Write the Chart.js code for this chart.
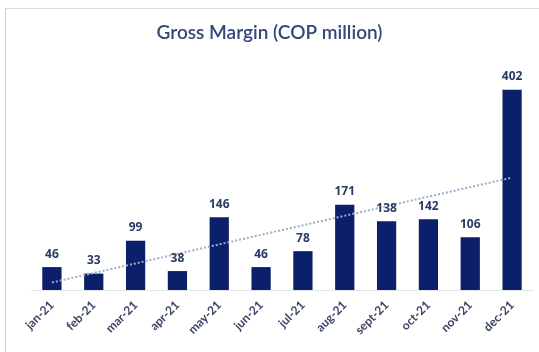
<!DOCTYPE html>
<html>
<head>
<meta charset="utf-8">
<script src="https://cdn.jsdelivr.net/npm/chart.js@4.4.1/dist/chart.umd.min.js"></script>
<style>
  html, body { margin: 0; padding: 0; background: #ffffff; }
  #wrap { position: relative; width: 539px; height: 352px; overflow: hidden; }
  #frame { position: absolute; left: 5px; top: 8px; width: 560px; height: 360px;
           border-left: 1px solid #cfd1d4; border-top: 1px solid #dcdde0; }
  canvas { position: absolute; left: 0; top: 0; }
</style>
</head>
<body>
<div id="wrap">
  <div id="frame"></div>
  <canvas id="c" width="539" height="352"></canvas>
</div>
<script>
const categories = ["jan-21","feb-21","mar-21","apr-21","may-21","jun-21","jul-21","aug-21","sept-21","oct-21","nov-21","dec-21"];
const grossMargin = [46, 33, 99, 38, 146, 46, 78, 171, 138, 142, 106, 402];
const chartTitle = "Gross Margin (COP million)";

// Linear (least-squares) trendline of the series, as in the original spreadsheet chart
function linearTrend(values) {
  const n = values.length;
  let sx = 0, sy = 0, sxy = 0, sxx = 0;
  values.forEach((v, i) => { sx += i; sy += v; sxy += i * v; sxx += i * i; });
  const slope = (n * sxy - sx * sy) / (n * sxx - sx * sx);
  const intercept = (sy - slope * sx) / n;
  return values.map((_, i) => intercept + slope * i);
}
const trend = linearTrend(grossMargin);

const valueLabels = {
  id: 'valueLabels',
  afterDatasetsDraw(chart) {
    const ctx = chart.ctx;
    const meta = chart.getDatasetMeta(1);
    ctx.save();
    ctx.font = 'bold 12px "Open Sans", sans-serif';
    ctx.fillStyle = '#2b3963';
    ctx.textAlign = 'center';
    ctx.textBaseline = 'bottom';
    meta.data.forEach((bar, i) => {
      ctx.fillText(String(grossMargin[i]), bar.x, bar.y - 7);
    });
    ctx.restore();
  }
};

const centeredTitle = {
  id: 'centeredTitle',
  afterDraw(chart) {
    const ctx = chart.ctx;
    ctx.save();
    ctx.font = '600 19px Lato, sans-serif';
    ctx.fillStyle = '#36467a';
    ctx.textAlign = 'center';
    ctx.textBaseline = 'middle';
    ctx.fillText(chartTitle, chart.width / 2, 33);
    ctx.restore();
  }
};

new Chart(document.getElementById('c'), {
  data: {
    labels: categories,
    datasets: [
      {
        type: 'line',
        label: 'Linear trend',
        data: trend,
        borderColor: '#9daccb',
        borderWidth: 2,
        borderDash: [2, 2],
        pointRadius: 0,
        fill: false,
        order: 0
      },
      {
        type: 'bar',
        label: 'Gross Margin',
        data: grossMargin,
        backgroundColor: '#0b1f6a',
        categoryPercentage: 1.0,
        barPercentage: 0.46,
        order: 1
      }
    ]
  },
  options: {
    responsive: false,
    animation: false,
    layout: { padding: { left: 31, right: 6, top: 60, bottom: 0 } },
    plugins: {
      legend: { display: false },
      tooltip: { enabled: false },
      title: { display: false }
    },
    scales: {
      x: {
        grid: { display: false, drawTicks: false },
        border: { display: true, color: '#e3e4e6', width: 1 },
        ticks: {
          color: '#3c4466',
          font: { family: 'Lato', size: 12, weight: 'bold' },
          maxRotation: 45,
          minRotation: 45,
          padding: 8,
          autoSkip: false
        },
        afterFit(scale) { scale.height = 62; }
      },
      y: {
        display: false,
        min: 0,
        max: 462
      }
    }
  },
  plugins: [valueLabels, centeredTitle]
});
</script>
</body>
</html>
